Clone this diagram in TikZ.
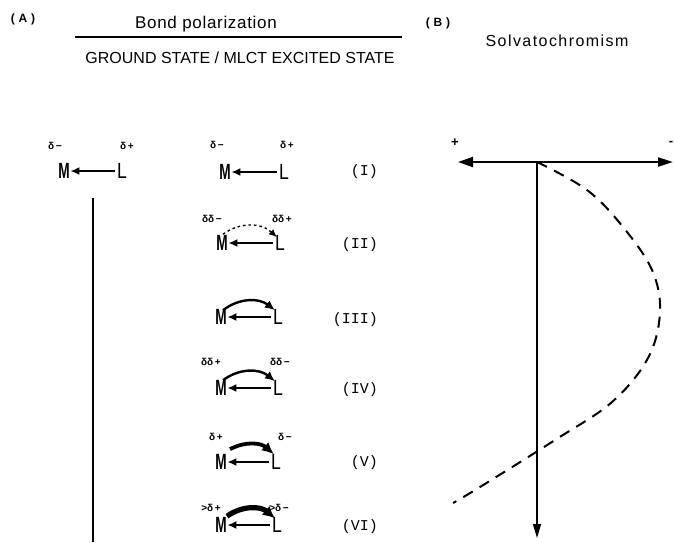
\documentclass[tikz,border=0pt]{standalone}
\usepackage{graphicx}
\usepackage{fontspec}
\setmainfont{Liberation Sans}
\newfontfamily\monof{Liberation Mono}
\newfontfamily\headf[LetterSpace=4]{Liberation Sans}
\newfontfamily\solvf[LetterSpace=9]{Liberation Sans}
\usetikzlibrary{arrows.meta,calc}
\newcommand{\condM}{\scalebox{0.62}[1]{\bfseries M}}
\newcommand{\condL}{\scalebox{0.8}[1]{L}}
\begin{document}
\begin{tikzpicture}[x=1pt,y=1pt,
  lettM/.style={inner sep=0pt, font=\fontsize{22}{22}\selectfont},
  dl/.style={inner sep=0pt, font=\bfseries\fontsize{10}{10}\selectfont},
  rn/.style={inner sep=0pt, anchor=east, font=\monof\fontsize{15}{15}\selectfont},
  bond/.style={line width=2pt, shorten >=0.5pt, shorten <=2pt, -{Latex[length=9pt,width=8pt]}},
  dotarc/.style={line width=1.4pt, dash pattern=on 2.5pt off 3pt, -{Latex[length=8pt,width=7pt]}},
  arcA/.style={line width=2.4pt, -{Latex[length=10pt,width=9pt]}},
  arcB/.style={line width=3.8pt, -{Latex[length=12pt,width=11pt]}},
  arcC/.style={line width=5.2pt, -{Latex[length=12pt,width=12pt]}},
  axis/.style={line width=2pt, {Triangle[length=15pt,width=10pt]}-{Triangle[length=15pt,width=9pt]}},
  vaxis/.style={line width=1.5pt, -{Triangle[length=14pt,width=8pt]}},
  dcurve/.style={line width=2pt, dash pattern=on 11pt off 8pt}
]
\useasboundingbox (0,-542) rectangle (674,0);

% headings
\node[inner sep=0pt, anchor=base, font=\headf\bfseries\fontsize{12}{12}\selectfont] (labA) at (23,-22) {( A )};
\node[inner sep=0pt, anchor=base, font=\headf\fontsize{17}{17}\selectfont] (bp) at (206,-28) {Bond polarization};
\coordinate (ruleL) at (75,-37);
\coordinate (ruleR) at (402,-37);
\draw[line width=1.5pt] (ruleL) -- (ruleR);
\node[inner sep=0pt, anchor=base, font=\fontsize{16}{16}\selectfont] (gs) at (240,-63) {GROUND STATE / MLCT EXCITED STATE};
\node[inner sep=0pt, anchor=base, font=\headf\bfseries\fontsize{12}{12}\selectfont] (labB) at (438,-26) {( B )};
\node[inner sep=0pt, anchor=base, font=\solvf\fontsize{16}{16}\selectfont] (solv) at (557,-46) {Solvatochromism};

% left group
\node[dl] (d0a) at (55,-146) {δ\,−};
\node[dl] (d0b) at (127,-146) {δ\,+};
\node[lettM] (m0) at (64,-171) {\condM};
\node[lettM] (l0) at (122,-171) {\condL};
\draw[bond] (l0.west) -- (m0.east);
\coordinate (vt) at (93,-198);
\coordinate (vb) at (93,-542);
\draw[line width=1.3pt] (vt) -- (vb);

% row I
\node[dl] (d1a) at (217,-145) {δ\,−};
\node[dl] (d1b) at (287,-145) {δ\,+};
\node[lettM] (m1) at (225,-172) {\condM};
\node[lettM] (l1) at (284,-172) {\condL};
\draw[bond] (l1.west) -- (m1.east);
\node[rn] (r1) at (378,-172) {(I)};

% row II
\node[dl] (d2a) at (212,-219) {δδ\,−};
\node[dl] (d2b) at (282,-219) {δδ\,+};
\node[lettM] (m2) at (222,-243) {\condM};
\node[lettM] (l2) at (280,-243) {\condL};
\draw[bond] (l2.west) -- (m2.east);
\draw[dotarc] ([shift={(1,1)}]m2.north) to[bend left=40] ([shift={(2,-2)}]l2.north west);
\node[rn] (r2) at (378,-245) {(II)};

% row III
\node[lettM] (m3) at (221,-317) {\condM};
\node[lettM] (l3) at (278,-317) {\condL};
\draw[bond] (l3.west) -- (m3.east);
\draw[arcA] ([shift={(2,-1)}]m3.north) to[bend left=38] ([shift={(2,-1)}]l3.north west);
\node[rn] (r3) at (378,-320) {(III)};

% row IV
\node[dl] (d4a) at (211,-362) {δδ\,+};
\node[dl] (d4b) at (280,-362) {δδ\,−};
\node[lettM] (m4) at (221,-388) {\condM};
\node[lettM] (l4) at (278,-388) {\condL};
\draw[bond] (l4.west) -- (m4.east);
\draw[arcA] ([shift={(2,0)}]m4.north) to[bend left=38] ([shift={(2,-1)}]l4.north west);
\node[rn] (r4) at (378,-390) {(IV)};

% row V
\node[dl] (d5a) at (216,-437) {δ\,+};
\node[dl] (d5b) at (285,-437) {δ\,−};
\node[lettM] (m5) at (221,-462) {\condM};
\node[lettM] (l5) at (276,-462) {\condL};
\draw[bond] (l5.west) -- (m5.east);
\draw[arcB] ([shift={(9,5)}]m5.north) to[bend left=35] ([shift={(3,0)}]l5.north west);
\node[rn] (r5) at (378,-463) {(V)};

% row VI
\node[dl] (d6a) at (211,-508) {>δ\,+};
\node[dl] (d6b) at (279,-508) {>δ\,−};
\node[lettM] (m6) at (221,-525) {\condM};
\node[lettM] (l6) at (277,-525) {\condL};
\draw[bond] (l6.west) -- (m6.east);
\draw[arcC] ([shift={(6,1)}]m6.north) to[bend left=38] ([shift={(3,-1)}]l6.north west);
\node[rn] (r6) at (378,-527) {(VI)};

% panel B
\node[inner sep=0pt, font=\bfseries\fontsize{13}{13}\selectfont] (plus) at (455,-143) {+};
\node[inner sep=0pt, font=\bfseries\fontsize{13}{13}\selectfont] (minus) at (671,-143) {-};
\coordinate (o) at (537,-162);
\coordinate (hl) at (458,-162);
\coordinate (hr) at (673,-162);
\coordinate (vbot) at (537,-538);
\draw[axis] (hl) -- (hr);
\draw[vaxis] (o) -- (vbot);
\draw[dcurve] plot[smooth, tension=0.6] coordinates {(o) (587,-190) (623,-227) (652,-270) (660,-312) (648,-358) (612,-402) (555,-440) (480,-487) (453,-503)};
\end{tikzpicture}
\end{document}
